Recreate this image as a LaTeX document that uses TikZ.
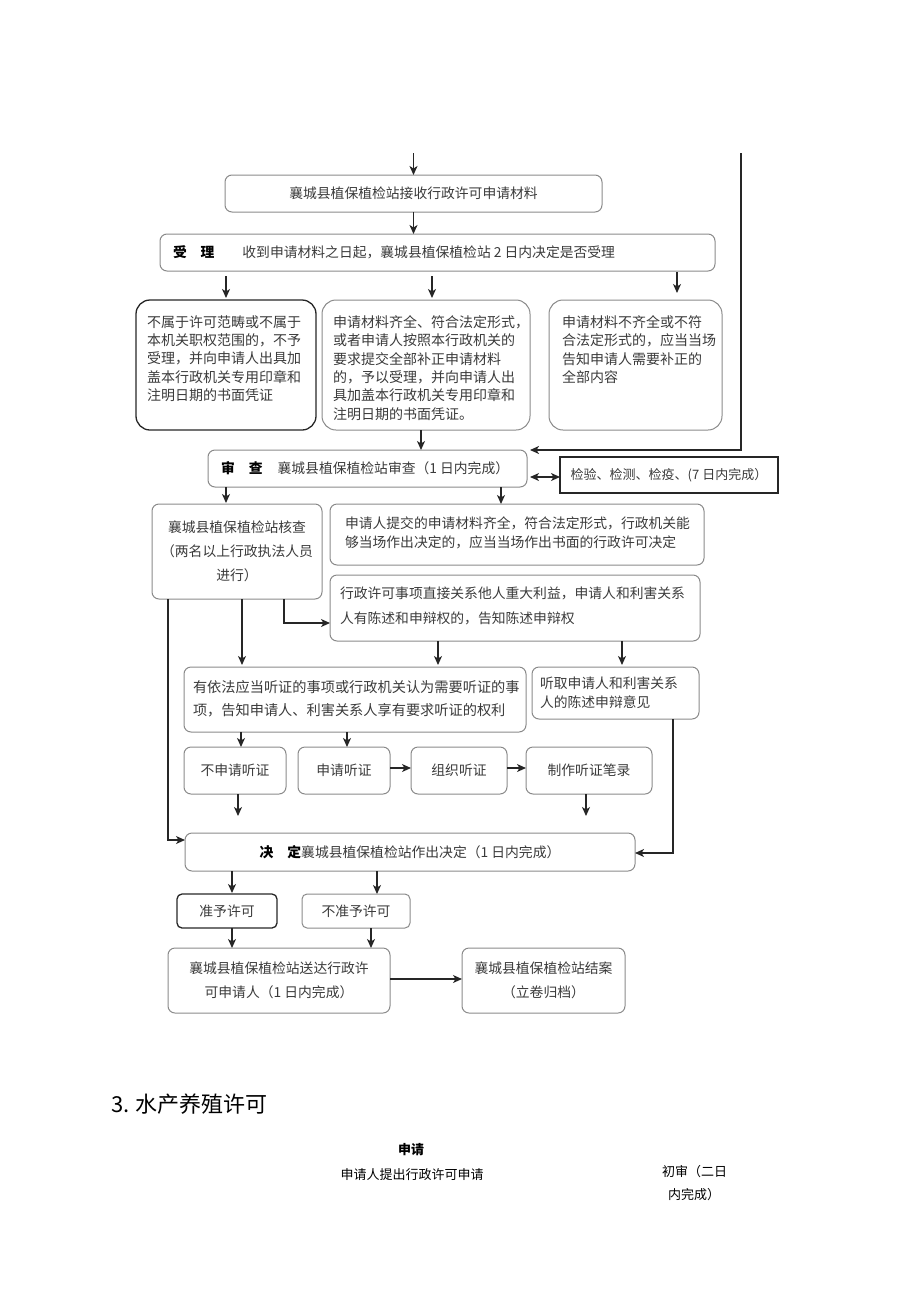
\documentclass[tikz,border=0pt]{standalone}
\usepackage{fontspec}
\setmainfont{Noto Sans CJK SC}
\usetikzlibrary{arrows.meta}
\definecolor{bordergray}{HTML}{8A8A8A}
\definecolor{darkline}{HTML}{262626}
\definecolor{txtc}{HTML}{3A3A3A}
\begin{document}
\begin{tikzpicture}[x=1pt,y=-1pt,
  every node/.style={inner sep=0pt, outer sep=0pt, text=txtc},
  basefont/.style={font=\fontsize{13.8}{18.3}\selectfont},
  gbox/.style={draw=bordergray, line width=1pt, rounded corners=7pt, basefont},
  rbox/.style={draw=bordergray, line width=1pt, rounded corners=14pt},
  dbox/.style={draw=darkline, line width=1.3pt, rounded corners=14pt},
  sqbox/.style={draw=darkline, line width=1.5pt, font=\fontsize{13}{16}\selectfont},
  tthree/.style={font=\fontsize{14}{18.3}\selectfont, align=left, anchor=west},
  tleft/.style={align=left, anchor=west},
  arr/.style={draw=darkline, line width=1.3pt, -{Stealth[length=9pt,width=8pt,inset=2.5pt]}},
  dbl/.style={draw=darkline, line width=1.3pt, {Stealth[length=9pt,width=8pt,inset=2.5pt]}-{Stealth[length=9pt,width=8pt,inset=2.5pt]}}
]
\useasboundingbox (0,0) rectangle (920,1301);

% helper coordinates
\coordinate (top) at (413.5,153);
\coordinate (rtop) at (741,153);
\coordinate (v168) at (168,0);
\coordinate (v226) at (226,0);
\coordinate (v232) at (232,0);
\coordinate (v241) at (241,0);
\coordinate (v242) at (242,0);
\coordinate (v284) at (284,0);
\coordinate (v347) at (347,0);
\coordinate (v371) at (371,0);
\coordinate (v377) at (377,0);
\coordinate (v421) at (421,0);
\coordinate (v432) at (432,0);
\coordinate (v438) at (438,0);
\coordinate (v501) at (501,0);
\coordinate (v622) at (622,0);
\coordinate (v673) at (673,0);
\coordinate (v677) at (677,0);
\coordinate (h477) at (0,477);
\coordinate (h623) at (0,623);
\coordinate (h768) at (0,768);
\coordinate (h840) at (0,840);
\coordinate (h853) at (0,853);
\coordinate (h979) at (0,979);
\coordinate (f1) at (238,816);
\coordinate (f2) at (586,816);

% boxes
\node[gbox, minimum width=377pt, minimum height=37pt] (b1) at (413.5,193.5) {襄城县植保植检站接收行政许可申请材料};
\node[gbox, minimum width=555pt, minimum height=37pt] (b2) at (437.5,252.5) {\makebox[529pt][l]{\textbf{\color{black}受\hspace{13.8pt}理}\hspace{28pt}收到申请材料之日起，襄城县植保植检站 2 日内决定是否受理}};

\node[dbox, minimum width=180pt, minimum height=130pt] (b3a) at (226,365) {};
\node[tthree] (t3a) at (147,358.5) {不属于许可范畴或不属于\\本机关职权范围的，不予\\受理，并向申请人出具加\\盖本行政机关专用印章和\\注明日期的书面凭证};
\node[rbox, minimum width=208pt, minimum height=130pt] (b3b) at (426,365) {};
\node[tthree] (t3b) at (333,368) {申请材料齐全、符合法定形式，\\或者申请人按照本行政机关的\\要求提交全部补正申请材料\\的，予以受理，并向申请人出\\具加盖本行政机关专用印章和\\注明日期的书面凭证。};
\node[rbox, minimum width=173pt, minimum height=130pt] (b3c) at (635.5,365) {};
\node[tthree] (t3c) at (562,349.5) {申请材料不齐全或不符\\合法定形式的，应当当场\\告知申请人需要补正的\\全部内容};

\node[gbox, minimum width=319pt, minimum height=37pt] (b4) at (367.5,468.5) {\makebox[293pt][l]{\textbf{\color{black}审\hspace{14pt}查}\hspace{15pt}襄城县植保植检站审查（1 日内完成）}};
\node[sqbox, minimum width=218pt, minimum height=36pt] (b5) at (669,475) {检验、检测、检疫、(7 日内完成）};

\node[gbox, minimum width=170pt, minimum height=95pt, align=center, font=\fontsize{13.8}{24}\selectfont] (b6) at (237,551.5) {襄城县植保植检站核查\\（两名以上行政执法人员\\进行）};
\node[gbox, minimum width=374pt, minimum height=61pt] (b7) at (517,534.5) {};
\node[tleft, font=\fontsize{13.8}{19}\selectfont] (t7) at (345,532.5) {申请人提交的申请材料齐全，符合法定形式，行政机关能\\够当场作出决定的，应当当场作出书面的行政许可决定};
\node[gbox, minimum width=370pt, minimum height=66pt] (b8) at (515,608) {};
\node[tleft, font=\fontsize{13.8}{25}\selectfont] (t8) at (340,605.5) {行政许可事项直接关系他人重大利益，申请人和利害关系\\人有陈述和申辩权的，告知陈述申辩权};
\node[gbox, minimum width=342pt, minimum height=65pt] (b9) at (355,699.5) {};
\node[tleft, font=\fontsize{14.2}{23}\selectfont] (t9) at (193,698.5) {有依法应当听证的事项或行政机关认为需要听证的事\\项，告知申请人、利害关系人享有要求听证的权利};
\node[gbox, minimum width=167pt, minimum height=52pt] (b10) at (615.5,693) {};
\node[tleft, font=\fontsize{13.8}{19}\selectfont] (t10) at (540,692.5) {听取申请人和利害关系\\人的陈述申辩意见};

\node[gbox, minimum width=102pt, minimum height=47pt] (b11) at (235,770.5) {不申请听证};
\node[gbox, minimum width=92pt, minimum height=47pt] (b12) at (344,770.5) {申请听证};
\node[gbox, minimum width=96pt, minimum height=47pt] (b13) at (459,770.5) {组织听证};
\node[gbox, minimum width=126pt, minimum height=47pt] (b14) at (589,770.5) {制作听证笔录};

\node[gbox, minimum width=450pt, minimum height=38pt] (b15) at (410,852) {\textbf{\color{black}决\hspace{14pt}定}襄城县植保植检站作出决定（1 日内完成）};
\node[gbox, draw=darkline, line width=1.3pt, rounded corners=5pt, minimum width=100pt, minimum height=34pt] (b16) at (227,911) {准予许可};
\node[gbox, rounded corners=5pt, minimum width=108pt, minimum height=34pt] (b17) at (356,911) {不准予许可};
\node[gbox, minimum width=222pt, minimum height=65pt, align=center, font=\fontsize{13.8}{24}\selectfont] (b18) at (279,980.5) {襄城县植保植检站送达行政许\\可申请人（1 日内完成）};
\node[gbox, minimum width=163pt, minimum height=65pt, align=center, font=\fontsize{13.8}{24}\selectfont] (b19) at (543.5,980.5) {襄城县植保植检站结案\\（立卷归档）};

% connectors
\draw[arr] (top) -- (b1.north);
\draw[arr] (b1.south) -- (b1.south |- b2.north);
\draw[arr, shorten <=5pt, shorten >=2pt] (b2.south -| v226) -- (b3a.north);
\draw[arr, shorten <=5pt, shorten >=2pt] (b2.south -| v432) -- (b3b.north -| v432);
\draw[arr, shorten <=1pt, shorten >=7pt] (b2.south -| v677) -- (b3c.north -| v677);
\draw[arr] (b3b.south -| v421) -- (b4.north -| v421);
\draw[arr, line width=1.5pt, shorten >=3pt] (rtop) |- (b4.north east);
\draw[dbl, shorten <=3pt] (b4.east |- h477) -- (b5.west |- h477);
\draw[arr, shorten >=1pt] (b4.south -| v226) -- (b6.north -| v226);
\draw[arr] (b4.south -| v501) -- (b7.north -| v501);
\draw[arr] (b6.south -| v284) |- (b8.west |- h623);
\draw[arr, shorten >=2pt] (b6.south -| v242) -- (b9.north -| v242);
\draw[arr] (b6.south -| v168) |- (b15.west |- h840);
\draw[arr, shorten >=2pt] (b8.south -| v438) -- (b9.north -| v438);
\draw[arr, shorten >=2pt] (b8.south -| v622) -- (b10.north -| v622);
\draw[arr] (b9.south -| v241) -- (b11.north -| v241);
\draw[arr] (b9.south -| v347) -- (b12.north -| v347);
\draw[arr] (b12.east |- h768) -- (b13.west |- h768);
\draw[arr] (b13.east |- h768) -- (b14.west |- h768);
\draw[arr] (b11.south -| f1) -- (f1);
\draw[arr] (b14.south -| f2) -- (f2);
\draw[arr] (b10.south -| v673) |- (b15.east |- h853);
\draw[arr, shorten >=1pt] (b15.south -| v232) -- (b16.north -| v232);
\draw[arr] (b15.south -| v377) -- (b17.north -| v377);
\draw[arr] (b16.south -| v232) -- (b18.north -| v232);
\draw[arr] (b17.south -| v371) -- (b18.north -| v371);
\draw[arr] (b18.east |- h979) -- (b19.west |- h979);

% lower section
\node[anchor=west, font=\fontsize{22}{26}\selectfont, text=black] (h3) at (111,1104) {3. 水产养殖许可};
\node[font=\bfseries\fontsize{13}{16}\selectfont, text=black] (s1) at (411,1150) {申请};
\node[font=\fontsize{13}{16}\selectfont, text=black] (s2) at (412,1175) {申请人提出行政许可申请};
\node[anchor=west, align=left, font=\fontsize{13}{23}\selectfont, text=black] (s3) at (662,1183.5) {初审（二日\\\hspace*{6pt}内完成）};
\end{tikzpicture}
\end{document}
